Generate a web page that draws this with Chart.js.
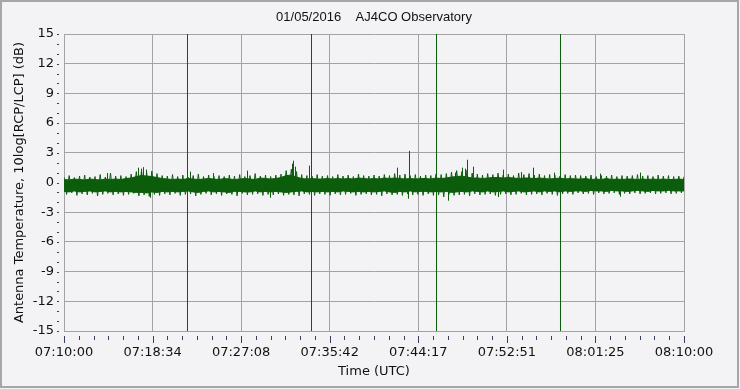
<!doctype html>
<html lang="en">
  <head>
    <meta charset="utf-8">
    <title>AJ4CO Observatory</title>
    <script src="https://cdn.jsdelivr.net/npm/chart.js@4.4.0/dist/chart.umd.min.js"></script>
    <style>
        html, body { margin: 0; padding: 0; background: #f3f3f5; }
        #chart { display: block; }
    </style>
  </head>
  <body>
    <canvas id="chart" width="740" height="389"></canvas>

    <script>
        // seconds after 07:10:00; solid core of the trace read every 30 s
        const sampleStep = 30

        const bandHigh = [
            0.30, 0.25, 0.35, 0.30, 0.25, 0.35, 0.30, 0.25, 0.35, 0.30,
            0.35, 0.30, 0.40, 0.45, 0.60, 0.70, 0.65, 0.60, 0.50, 0.40,
            0.35, 0.30, 0.35, 0.30, 0.40, 0.35, 0.30, 0.35, 0.40, 0.35,
            0.30, 0.40, 0.35, 0.30, 0.35, 0.40, 0.35, 0.30, 0.45, 0.40,
            0.35, 0.40, 0.50, 0.70, 0.75, 0.55, 0.40, 0.35, 0.40, 0.35,
            0.35, 0.40, 0.35, 0.40, 0.35, 0.40, 0.35, 0.45, 0.40, 0.35,
            0.40, 0.35, 0.45, 0.40, 0.45, 0.40, 0.35, 0.40, 0.35, 0.40,
            0.40, 0.35, 0.45, 0.40, 0.45, 0.55, 0.60, 0.65, 0.55, 0.45,
            0.45, 0.40, 0.45, 0.50, 0.50, 0.45, 0.50, 0.45, 0.40, 0.45,
            0.45, 0.40, 0.45, 0.40, 0.35, 0.40, 0.45, 0.35, 0.40, 0.35,
            0.35, 0.40, 0.30, 0.35, 0.30, 0.40, 0.30, 0.35, 0.30, 0.35,
            0.35, 0.30, 0.35, 0.30, 0.35, 0.30, 0.35, 0.30, 0.30, 0.35, 0.30
        ]

        const bandLow = [
            -0.90, -0.95, -0.85, -0.95, -0.90, -0.85, -0.95, -0.90, -0.85, -0.95,
            -0.90, -0.95, -0.90, -0.95, -1.00, -1.00, -1.05, -0.95, -1.00, -0.90,
            -0.95, -0.90, -0.95, -0.90, -0.85, -0.95, -1.00, -0.90, -0.85, -0.95,
            -0.90, -0.95, -1.00, -0.90, -0.90, -0.95, -0.95, -0.85, -0.95, -0.90,
            -0.95, -0.90, -0.95, -1.00, -0.95, -0.90, -0.85, -0.95, -0.90, -0.95,
            -0.90, -0.95, -0.90, -0.95, -0.85, -0.90, -0.95, -0.90, -0.95, -0.90,
            -0.95, -0.90, -0.85, -0.95, -1.00, -0.90, -0.95, -0.85, -0.95, -0.90,
            -0.90, -0.95, -0.90, -0.95, -0.90, -1.00, -0.95, -0.90, -0.95, -0.85,
            -0.90, -0.95, -0.85, -0.95, -0.90, -0.85, -0.95, -0.90, -0.85, -0.95,
            -0.90, -0.85, -0.95, -0.85, -0.90, -0.85, -0.95, -0.85, -0.90, -0.85,
            -0.85, -0.90, -0.80, -0.85, -0.85, -0.90, -0.80, -0.85, -0.85, -0.90,
            -0.85, -0.80, -0.85, -0.90, -0.80, -0.85, -0.85, -0.80, -0.85, -0.85, -0.85
        ]

        // noise tips every 15 s, alternating upper and lower extremes
        const tipStep = 15
        const traceTips = [
            0.55, -1.20, 0.70, -1.05, 0.50, -1.30, 0.65, -1.15, 0.75, -1.25, 0.55, -1.10, 0.60, -1.35, 0.80, -1.20, 0.55, -1.10, 0.95, -1.25,
            0.65, -1.15, 0.70, -1.30, 0.60, -1.20, 0.85, -1.10, 1.10, -1.35, 1.25, -1.25, 1.00, -1.40, 1.15, -1.20, 0.90, -1.30, 0.70, -1.15,
            0.65, -1.25, 0.80, -1.10, 0.60, -1.30, 0.75, -1.20, 0.55, -1.15, 0.70, -1.35, 0.85, -1.20, 0.60, -1.10, 0.75, -1.25, 0.65, -1.15,
            0.70, -1.30, 0.60, -1.15, 0.75, -1.20, 0.65, -1.35, 0.80, -1.10, 0.60, -1.25, 0.70, -1.20, 0.90, -1.15, 0.65, -1.30, 0.75, -1.20,
            0.60, -1.25, 0.75, -1.15, 0.85, -1.30, 1.20, -1.20, 1.35, -1.25, 1.10, -1.35, 0.80, -1.15, 0.70, -1.20, 0.65, -1.30, 0.80, -1.15,
            0.65, -1.20, 0.70, -1.30, 0.60, -1.15, 0.80, -1.25, 0.65, -1.20, 0.75, -1.10, 0.60, -1.30, 0.85, -1.20, 0.70, -1.15, 0.65, -1.25,
            0.75, -1.20, 0.65, -1.35, 0.80, -1.15, 0.70, -1.25, 0.90, -1.20, 0.75, -1.30, 0.85, -1.15, 0.70, -1.25, 0.80, -1.20, 0.65, -1.30,
            0.75, -1.15, 0.70, -1.30, 0.85, -1.25, 0.80, -1.45, 0.90, -1.20, 1.05, -1.30, 1.20, -1.25, 1.10, -1.20, 1.25, -1.35, 0.95, -1.15,
            0.85, -1.25, 0.75, -1.20, 0.90, -1.15, 0.80, -1.30, 0.95, -1.20, 0.75, -1.15, 0.85, -1.25, 0.70, -1.20, 0.95, -1.10, 0.80, -1.25,
            0.90, -1.20, 0.75, -1.15, 0.85, -1.25, 0.70, -1.10, 0.80, -1.20, 0.75, -1.30, 0.65, -1.15, 0.80, -1.10, 0.70, -1.20, 0.75, -1.05,
            0.70, -1.15, 0.65, -1.10, 0.75, -1.20, 0.60, -1.05, 0.70, -1.15, 0.65, -1.10, 0.75, -1.05, 0.60, -1.20, 0.70, -1.10, 0.65, -1.15,
            0.70, -1.05, 0.80, -1.15, 0.65, -1.10, 0.70, -1.05, 0.60, -1.15, 0.75, -1.10, 0.65, -1.05, 0.70, -1.15, 0.60, -1.10, 0.65, -1.05,
            0.60
        ]

        // narrow spikes sticking out of the band
        const spikeTimes = [252.6, 432.6, 450.0, 461.6, 479.0, 502.3, 734.5, 868.1, 1065.5, 1199.0,
                            1326.8, 1332.6, 1344.2, 1425.5, 1936.5, 2000.3, 2006.1, 2232.6, 2273.2, 2313.9,
                            2331.3, 2342.9, 2377.7, 2522.9, 2551.9, 2656.5, 2726.1, 2848.1, 3115.2, 3231.3, 3347.4]
        const spikePeaks = [0.95, 1.5, 1.4, 1.55, 1.3, -1.5, 1.1, 0.95, 1.2, -1.5,
                            1.9, 2.2, 1.6, 1.7, 1.5, -1.6, 3.2, -1.8, 1.0, 1.5,
                            1.4, 2.3, 1.6, -1.45, 1.3, 1.05, 1.5, 1.0, 0.9, -1.4, 1.0]
        const spikeBase = -0.3

        // four off-scale bursts
        const burstTimes = [717.1, 1437.1, 2162.9, 2882.9]
        const burstLevel = 40

        const xTickLabels = ['07:10:00', '07:18:34', '07:27:08', '07:35:42',
                             '07:44:17', '07:52:51', '08:01:25', '08:10:00']
        const timeSpan = 3600

        const green = '#0b5d0b'
        const gridColor = '#a3a3a3'
        const tickColor = '#36405a'

        function spikePoints(times, peaks, base) {
            const pts = []
            times.forEach((t, i) => {
                pts.push({x: t, y: base}, {x: t, y: peaks[i]}, {x: t, y: null})
            })
            return pts
        }

        const frame = {
            id: 'frame',
            beforeDraw(chart) {
                const ctx = chart.ctx
                ctx.save()
                ctx.fillStyle = '#f3f3f5'
                ctx.fillRect(0, 0, chart.width, chart.height)
                ctx.strokeStyle = '#a6a6a6'
                ctx.lineWidth = 2
                ctx.strokeRect(1, 1, chart.width - 3, chart.height - 3)
                ctx.restore()
            }
        }

        // small tick marks outside the plot, major and minor
        const tickMarks = {
            id: 'tickMarks',
            afterDraw(chart) {
                const {ctx, chartArea, scales: {x, y}} = chart
                ctx.save()
                ctx.fillStyle = tickColor
                const minor = timeSpan / 7 / 6
                for (let i = 0; i <= 42; i++) {
                    const px = Math.round(x.getPixelForValue(i * minor))
                    ctx.fillRect(px, chartArea.bottom + 5, 1, i % 6 === 0 ? 7 : 4)
                }
                for (let v = -15; v <= 15; v++) {
                    const py = Math.round(y.getPixelForValue(v))
                    ctx.fillRect(chartArea.left - 7, py, 2, 1)
                }
                ctx.restore()
            }
        }

        const data = {
            datasets: [
                {
                    label: 'high',
                    data: bandHigh.map((v, i) => ({x: i * sampleStep, y: v})),
                    borderColor: green,
                    backgroundColor: green,
                    borderWidth: 1,
                    pointRadius: 0,
                    fill: '+1'
                },
                {
                    label: 'low',
                    data: bandLow.map((v, i) => ({x: i * sampleStep, y: v})),
                    borderColor: green,
                    borderWidth: 1,
                    pointRadius: 0,
                    fill: false
                },
                {
                    label: 'tips',
                    data: traceTips.map((v, i) => ({x: i * tipStep, y: v})),
                    borderColor: green,
                    borderWidth: 1,
                    pointRadius: 0,
                    fill: false
                },
                {
                    label: 'spikes',
                    data: spikePoints(spikeTimes, spikePeaks, spikeBase),
                    borderColor: green,
                    borderWidth: 1,
                    pointRadius: 0,
                    spanGaps: false,
                    fill: false
                },
                {
                    label: 'bursts',
                    data: spikePoints(burstTimes, burstTimes.map(() => burstLevel), -burstLevel),
                    borderColor: green,
                    borderWidth: 1,
                    pointRadius: 0,
                    spanGaps: false,
                    fill: false
                }
            ]
        }

        const options = {
            responsive: false,
            animation: false,
            events: [],
            layout: {
                padding: {left: 0, right: 56, top: 0, bottom: 0}
            },
            plugins: {
                legend: {display: false},
                tooltip: {enabled: false},
                title: {
                    display: true,
                    fullSize: false,
                    text: '01/05/2016    AJ4CO Observatory',
                    color: '#111',
                    font: {family: 'Liberation Sans', size: 13, weight: 'normal'},
                    padding: {top: 10, bottom: 8.4}
                }
            },
            scales: {
                x: {
                    type: 'linear',
                    min: 0,
                    max: timeSpan,
                    afterFit: (s) => { s.height = 58 },
                    afterBuildTicks: (s) => {
                        s.ticks = xTickLabels.map((l, i) => ({value: i * timeSpan / 7}))
                    },
                    grid: {color: gridColor, drawTicks: false},
                    border: {color: gridColor},
                    ticks: {
                        autoSkip: false,
                        maxRotation: 0,
                        padding: 14,
                        color: '#111',
                        font: {family: 'DejaVu Sans', size: 13},
                        callback: (v, i) => xTickLabels[i]
                    },
                    title: {
                        display: true,
                        text: 'Time (UTC)',
                        color: '#111',
                        font: {family: 'DejaVu Sans', size: 13},
                        padding: {top: 0, bottom: 10}
                    }
                },
                y: {
                    min: -15,
                    max: 15,
                    afterFit: (s) => { s.width = 64 },
                    grid: {color: gridColor, drawTicks: false},
                    border: {color: gridColor},
                    ticks: {
                        stepSize: 3,
                        padding: 10,
                        color: '#111',
                        font: {family: 'DejaVu Sans', size: 13}
                    },
                    title: {
                        display: true,
                        text: 'Antenna Temperature, 10log[RCP/LCP] (dB)',
                        color: '#111',
                        font: {family: 'DejaVu Sans', size: 13},
                        padding: {top: 12, bottom: 0}
                    }
                }
            }
        }

        new Chart(document.getElementById('chart'), {
            type: 'line',
            data: data,
            options: options,
            plugins: [frame, tickMarks]
        })
    </script>
  </body>
</html>
